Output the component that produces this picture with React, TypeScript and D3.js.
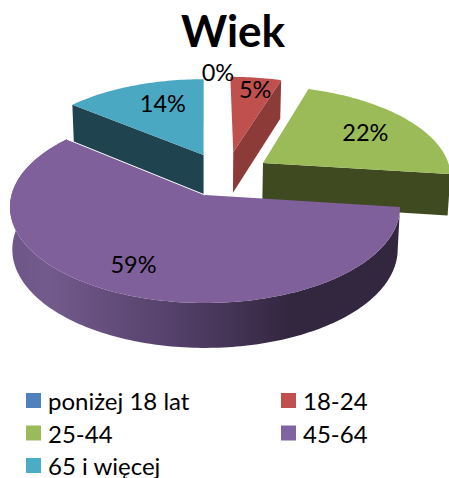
import React from "react";
import * as d3 from "d3";

const title = "Wiek";
const categories = ["poniżej 18 lat", "18-24", "25-44", "45-64", "65 i więcej"];
const values = [0, 5, 22, 59, 14];
const topColors = ["#4f81bd", "#c0504d", "#9bbb59", "#7f609b", "#4aa8c3"];
const sideColors = ["#2a4a70", "#8c3b39", "#404a20", "#33263f", "#1f444f"];
const legendColors = ["#4f81bd", "#c0504d", "#9bbb59", "#8064a2", "#4bacc6"];
// Explosion of each slice, in units of the pie radius on the pie's plane
const explodeX = [0.08, 0.155, 0.313, 0, -0.008];
const explodeY = [-0.85, -0.482, -0.354, 0, -0.447];
const labelRadius = [0.7, 0.83, 0.7, 0.75, 0.7];
const labelTurn = [0, 0.02, 0, 0.06, 0.09];

const W = 449, H = 478;
const cx = 205, cy = 195, a = 193.5, b = 94.5, k = 0.125, depth = 42;

function project(X: number, Y: number, z: number): [number, number] {
  const w = 1 - k * Y;
  const s = 1 - z * 0.012;
  return [cx + (a * X * s) / w, cy + (b * Y) / w + (z * depth) / Math.sqrt(w)];
}

const line = d3.line<[number, number]>().curve(d3.curveLinear);

export default function App() {
  const arcs = d3.pie<number>().sort(null).startAngle(0).endAngle(2 * Math.PI)(values);

  const rim = (i: number, z: number) => {
    const { startAngle: s, endAngle: e } = arcs[i];
    const angles = [...d3.range(s, e, 0.02), e];
    return angles.map((t) =>
      project(Math.sin(t) + explodeX[i], -Math.cos(t) + explodeY[i], z)
    );
  };
  const apex = (i: number, z: number) => project(explodeX[i], explodeY[i], z);
  const topFace = (i: number) => line([apex(i, 0), ...rim(i, 0)])! + "Z";
  const endCut = (i: number) => {
    const r0 = rim(i, 0), r1 = rim(i, 1);
    return line([apex(i, 0), r0[r0.length - 1], r1[r1.length - 1], apex(i, 1)])! + "Z";
  };
  const startCut = (i: number) =>
    line([apex(i, 0), rim(i, 0)[0], rim(i, 1)[0], apex(i, 1)])! + "Z";
  const wall = (i: number) =>
    line([...rim(i, 0), ...rim(i, 1).reverse()])! + "Z";

  const labelPos = (i: number) => {
    const m = (arcs[i].startAngle + arcs[i].endAngle) / 2 + labelTurn[i];
    const r = labelRadius[i];
    return project(r * Math.sin(m) + explodeX[i], -r * Math.cos(m) + explodeY[i], 0);
  };

  const legendX = d3.scalePoint<number>().domain([0, 1]).range([26, 281]);
  const legendY = d3.scalePoint<number>().domain([0, 1, 2]).range([400.5, 465.5]);

  return (
    <svg
      width={W}
      height={H}
      viewBox={`0 0 ${W} ${H}`}
      style={{ position: "absolute", left: 0, top: 0, fontFamily: "Lato, sans-serif" }}
    >
      <defs>
        <linearGradient id="wallGrad" gradientUnits="userSpaceOnUse" x1={10} x2={400} y1={0} y2={0}>
          <stop offset="0" stopColor="#6d5787" />
          <stop offset="0.1" stopColor="#735a8d" />
          <stop offset="0.45" stopColor="#513e66" />
          <stop offset="0.72" stopColor="#33263f" />
          <stop offset="1" stopColor="#33263f" />
        </linearGradient>
      </defs>
      <rect width={W} height={H} fill="#fff" />
      <text x={233} y={47} textAnchor="middle" fontSize={44} fontWeight={700} fill="#000">
        {title}
      </text>

      <path d={startCut(4)} fill={sideColors[4]} />
      <path d={topFace(4)} fill={topColors[4]} />
      <path d={endCut(1)} fill={sideColors[1]} />
      <path d={topFace(1)} fill={topColors[1]} />
      <path d={endCut(2)} fill={sideColors[2]} />
      <path d={topFace(2)} fill={topColors[2]} />

      <path d={wall(3)} fill="url(#wallGrad)" />
      <path d={topFace(3)} fill={topColors[3]} />
      <path
        d={line([apex(3, 0), rim(3, 0)[rim(3, 0).length - 1]])!}
        stroke="#fff"
        strokeWidth={1}
        fill="none"
      />

      {values.map((v, i) => {
        const [x, y] = labelPos(i);
        return (
          <text key={i} x={x} y={y} textAnchor="middle" dominantBaseline="central" fontSize={23.5} fill="#000">
            {v}%
          </text>
        );
      })}

      {categories.map((c, i) => {
        const x = legendX(i % 2)!;
        const y = legendY(Math.floor(i / 2))!;
        return (
          <g key={c}>
            <rect x={x} y={y - 7.5} width={15} height={15} fill={legendColors[i]} />
            <text x={x + 22} y={y} dominantBaseline="central" fontSize={24} fill="#000">
              {c}
            </text>
          </g>
        );
      })}
    </svg>
  );
}
